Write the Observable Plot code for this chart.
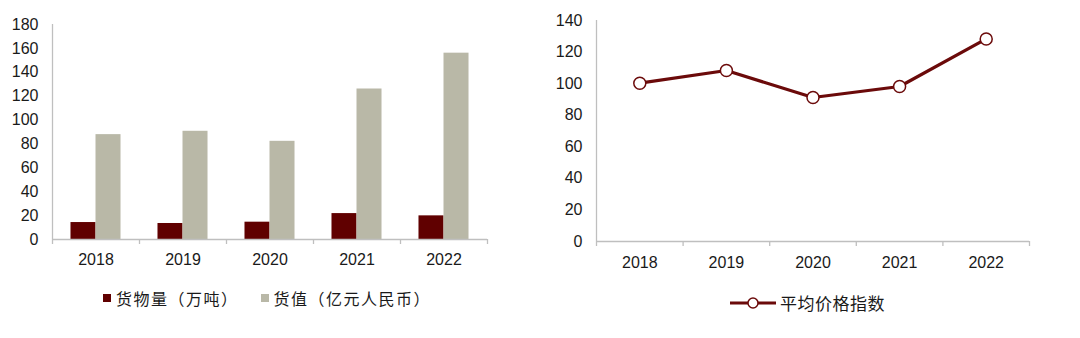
<!DOCTYPE html>
<html>
<head>
<meta charset="utf-8">
<script src="https://cdn.jsdelivr.net/npm/d3@7"></script>
<script src="https://cdn.jsdelivr.net/npm/@observablehq/plot@0.6"></script>
<style>
  body { margin: 0; background: #fff; }
  #wrap { position: relative; width: 1080px; height: 338px; font-family: "Liberation Sans", Arial, "Noto Sans CJK SC", sans-serif; color: #1a1a1a; }
  .panel { position: absolute; top: 0; }
  .legend { position: absolute; display: flex; align-items: center; white-space: nowrap; font-family: "Noto Sans CJK SC", sans-serif; line-height: 1; }
  .sw { display: inline-block; width: 8px; height: 8px; margin-right: 5px; }
</style>
</head>
<body>
<div id="wrap">
  <div class="panel" id="left" style="left:0"></div>
  <div class="panel" id="right" style="left:540px"></div>
  <div class="legend" style="left:103px; top:290px; font-size:16px; letter-spacing:1.5px;">
    <span class="sw" style="background:#600000"></span><span>货物量（万吨）</span>
    <span class="sw" style="background:#b9b8a7; margin-left:22px"></span><span>货值（亿元人民币）</span>
  </div>
  <div class="legend" style="left:730px; top:294px; font-size:17px; letter-spacing:0.5px;">
    <svg width="46" height="14" style="margin-right:4px"><line x1="0" y1="7" x2="46" y2="7" stroke="#6b0a0a" stroke-width="3"/><circle cx="23" cy="7" r="5" fill="#fff" stroke="#6b0a0a" stroke-width="1.5"/></svg>
    <span>平均价格指数</span>
  </div>
</div>
<script>
const years = [2018, 2019, 2020, 2021, 2022];
const volume = [14.2, 13.4, 14.5, 21.7, 19.8];   // 货物量（万吨）
const value = [87.8, 90.6, 82.2, 126, 156];      // 货值（亿元人民币）
const priceIndex = [100.3, 108.3, 91.2, 98.2, 128.3]; // 平均价格指数
const leftTicks = [0, 20, 40, 60, 80, 100, 120, 140, 160, 180];
const rightTicks = [0, 20, 40, 60, 80, 100, 120, 140];

const axisColor = "#bfbfbf";
const textColor = "#1a1a1a";
const fontFam = '"Liberation Sans", Arial, sans-serif';

const boundaries = [years[0] - 0.5, ...years.map(y => y + 0.5)];
const half = 0.2875;

const volData = years.map((y, i) => ({year: y, v: volume[i]}));
const valData = years.map((y, i) => ({year: y, v: value[i]}));
const idxData = years.map((y, i) => ({year: y, v: priceIndex[i]}));

function commonAxes(yTicks, yMax, pad) {
  return [
    Plot.ruleY([0], {stroke: axisColor, strokeWidth: 1.3}),
    Plot.ruleX([boundaries[0]], {y1: 0, y2: yMax, stroke: axisColor, strokeWidth: 1.3}),
    Plot.axisX({ticks: boundaries, tickFormat: () => "", tickSize: 5, stroke: axisColor, strokeWidth: 1.3, label: null}),
    Plot.axisX({ticks: years, tickFormat: d => String(d), tickSize: 0, tickPadding: pad, fontSize: 16, fill: textColor, label: null}),
    Plot.axisY({ticks: yTicks, tickSize: 0, tickPadding: 14, fontSize: 16, fill: textColor, label: null})
  ];
}

const left = Plot.plot({
  width: 540, height: 275,
  marginLeft: 52, marginRight: 53, marginTop: 24, marginBottom: 36,
  style: {fontFamily: fontFam, fontSize: "16px", color: textColor, background: "transparent"},
  x: {type: "linear", domain: [boundaries[0], boundaries[boundaries.length - 1]], label: null},
  y: {domain: [0, 180], label: null},
  marks: [
    Plot.rectY(volData, {x1: d => d.year - half, x2: d => d.year, y1: 0, y2: "v", fill: "#600000"}),
    Plot.rectY(valData, {x1: d => d.year, x2: d => d.year + half, y1: 0, y2: "v", fill: "#b9b8a7"}),
    ...commonAxes(leftTicks, 180, 14)
  ]
});
document.getElementById("left").appendChild(left);

const right = Plot.plot({
  width: 540, height: 280,
  marginLeft: 56, marginRight: 51, marginTop: 20, marginBottom: 39,
  style: {fontFamily: fontFam, fontSize: "16px", color: textColor, background: "transparent"},
  x: {type: "linear", domain: [boundaries[0], boundaries[boundaries.length - 1]], label: null},
  y: {domain: [0, 140], label: null},
  marks: [
    ...commonAxes(rightTicks, 140, 15),
    Plot.line(idxData, {x: "year", y: "v", stroke: "#6b0a0a", strokeWidth: 3.2}),
    Plot.dot(idxData, {x: "year", y: "v", r: 6, fill: "#fff", stroke: "#6b0a0a", strokeWidth: 1.5})
  ]
});
document.getElementById("right").appendChild(right);
</script>
</body>
</html>
